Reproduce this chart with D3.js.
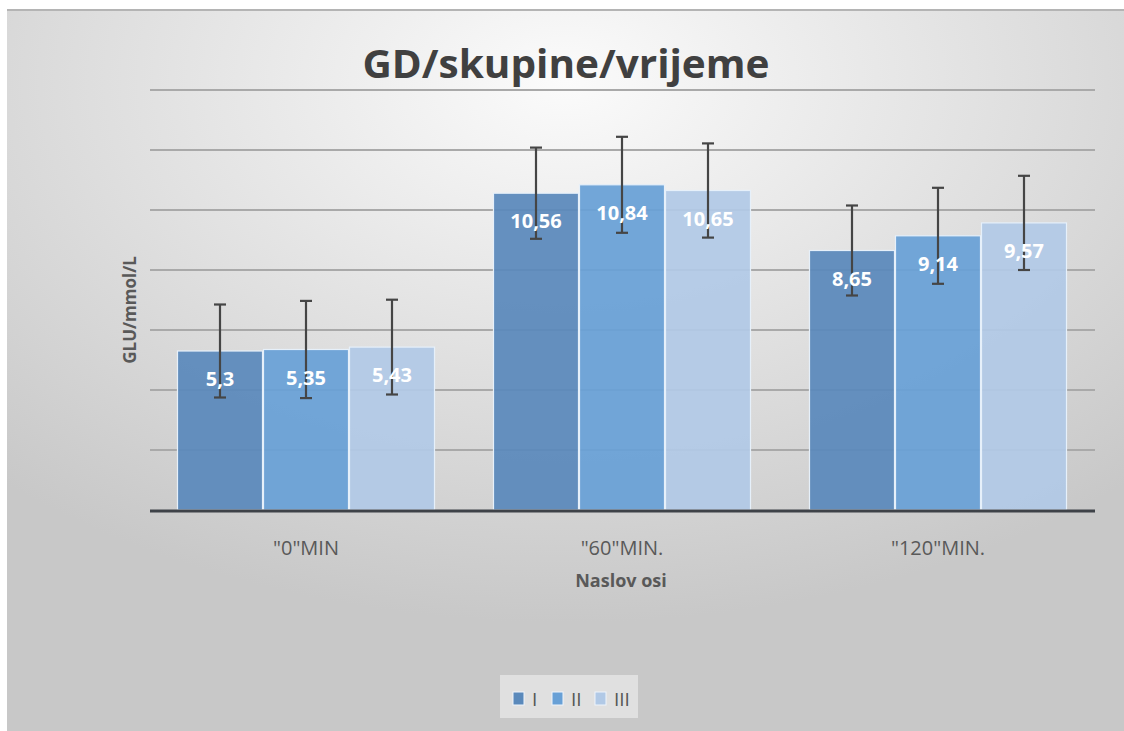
<!DOCTYPE html>
<html><head><meta charset="utf-8">
<script src="https://cdn.jsdelivr.net/npm/d3@7"></script>
<style>
html,body{margin:0;padding:0;background:#fff;}
svg{display:block;}
</style></head>
<body>
<svg id="c" width="1124" height="731"></svg>
<script>
const categories = ['"0"MIN', '"60"MIN.', '"120"MIN.'];
const seriesNames = ["I", "II", "III"];
const valuesI   = [5.3, 10.56, 8.65];
const valuesII  = [5.35, 10.84, 9.14];
const valuesIII = [5.43, 10.65, 9.57];
const errI   = [1.55, 1.52, 1.5];
const errII  = [1.62, 1.6, 1.6];
const errIII = [1.58, 1.57, 1.57];
const labelsI   = ["5,3", "10,56", "8,65"];
const labelsII  = ["5,35", "10,84", "9,14"];
const labelsIII = ["5,43", "10,65", "9,57"];
const yTicks = [0, 2, 4, 6, 8, 10, 12, 14];
const colors = ["#5a89bb", "#68a0d6", "#b1c9e6"];

const series = [
  {name: seriesNames[0], vals: valuesI, errs: errI, labels: labelsI},
  {name: seriesNames[1], vals: valuesII, errs: errII, labels: labelsII},
  {name: seriesNames[2], vals: valuesIII, errs: errIII, labels: labelsIII}
];

const svg = d3.select("#c");
const defs = svg.append("defs");
const rg = defs.append("radialGradient").attr("id","bg")
  .attr("cx","0.5").attr("cy","0.1").attr("r","0.75").attr("gradientUnits","objectBoundingBox");
rg.append("stop").attr("offset","0").attr("stop-color","#fbfbfb");
rg.append("stop").attr("offset","0.45").attr("stop-color","#e4e4e4");
rg.append("stop").attr("offset","1").attr("stop-color","#c8c8c8");

svg.append("rect").attr("x",7).attr("y",9).attr("width",1117).attr("height",722).attr("fill","url(#bg)");
svg.append("line").attr("x1",7).attr("x2",1124).attr("y1",10).attr("y2",10).attr("stroke","#b4b4b4").attr("stroke-width",2);

const x0 = d3.scaleBand().domain(categories).range([148, 1096]).paddingInner(0).paddingOuter(0);
const x1 = d3.scaleBand().domain(seriesNames).range([29, x0.bandwidth()-29]).padding(0);
const y = d3.scaleLinear().domain([0, 14]).range([510, 90]);

const FONT = "'Open Sans', sans-serif";

// gridlines
svg.append("g").selectAll("line").data(yTicks.filter(d=>d>0)).join("line")
  .attr("x1",150).attr("x2",1095).attr("y1",d=>y(d)).attr("y2",d=>y(d))
  .attr("stroke","#a9a9a9").attr("stroke-width",2);

// bars
const g = svg.append("g");
series.forEach((s, si) => {
  const gs = g.append("g");
  gs.selectAll("rect").data(categories).join("rect")
    .attr("x", (c)=>x0(c)+x1(s.name)+0.5)
    .attr("y", (c,i)=>y(s.vals[i]))
    .attr("width", x1.bandwidth()-1)
    .attr("height", (c,i)=>y(0)-y(s.vals[i]))
    .attr("fill", colors[si]).attr("fill-opacity",0.93)
    .attr("stroke","#e6f0fa").attr("stroke-width",1.2);
});

// baseline
svg.append("line").attr("x1",150).attr("x2",1095).attr("y1",y(0)+1).attr("y2",y(0)+1)
  .attr("stroke","#3e4248").attr("stroke-width",3);

// error bars
series.forEach((s, si) => {
  const ge = svg.append("g").attr("stroke","#454545").attr("stroke-width",2.2);
  categories.forEach((c,i)=>{
    const cx = x0(c)+x1(s.name)+x1.bandwidth()/2;
    const top = y(s.vals[i]+s.errs[i]), bot = y(s.vals[i]-s.errs[i]);
    ge.append("line").attr("x1",cx).attr("x2",cx).attr("y1",top).attr("y2",bot);
    ge.append("line").attr("x1",cx-6).attr("x2",cx+6).attr("y1",top).attr("y2",top);
    ge.append("line").attr("x1",cx-6).attr("x2",cx+6).attr("y1",bot).attr("y2",bot);
  });
});

// data labels
series.forEach((s, si) => {
  svg.append("g").selectAll("text").data(categories).join("text")
    .attr("x", c=>x0(c)+x1(s.name)+x1.bandwidth()/2)
    .attr("y", (c,i)=>y(s.vals[i])+35)
    .attr("text-anchor","middle")
    .attr("font-family",FONT).attr("font-weight","bold")
    .attr("font-size",20).attr("fill","#ffffff")
    .text((c,i)=>s.labels[i]);
});

// x axis labels
svg.append("g").selectAll("text").data(categories).join("text")
  .attr("x", c=>x0(c)+x0.bandwidth()/2).attr("y",555)
  .attr("text-anchor","middle").attr("font-family",FONT)
  .attr("font-size",20).attr("fill","#595959").text(d=>d);

svg.append("text").attr("x",621).attr("y",587).attr("text-anchor","middle")
  .attr("font-family",FONT).attr("font-weight","bold")
  .attr("font-size",18).attr("fill","#595959").text("Naslov osi");

svg.append("text").attr("transform","translate(136,310) rotate(-90)").attr("text-anchor","middle")
  .attr("font-family",FONT).attr("font-weight","bold")
  .attr("font-size",17).attr("fill","#595959").text("GLU/mmol/L");

// title
svg.append("text").attr("x",566).attr("y",78).attr("text-anchor","middle")
  .attr("font-family",FONT).attr("font-weight","bold")
  .attr("font-size",40).attr("fill","#404040").attr("textLength",407).attr("lengthAdjust","spacingAndGlyphs")
  .text("GD/skupine/vrijeme");

// legend
const lg = svg.append("g");
lg.append("rect").attr("x",500).attr("y",675).attr("width",138).attr("height",43).attr("fill","#e0e0e0");
const legX = [513, 552, 595];
series.forEach((s, si)=>{
  lg.append("rect").attr("x",legX[si]).attr("y",692).attr("width",11).attr("height",13)
    .attr("fill",colors[si]).attr("stroke","#eef4fb").attr("stroke-width",1);
  lg.append("text").attr("x",legX[si]+19).attr("y",706)
    .attr("font-family",FONT).attr("font-size",19).attr("fill","#555555").text(s.name);
});
</script>
</body></html>
